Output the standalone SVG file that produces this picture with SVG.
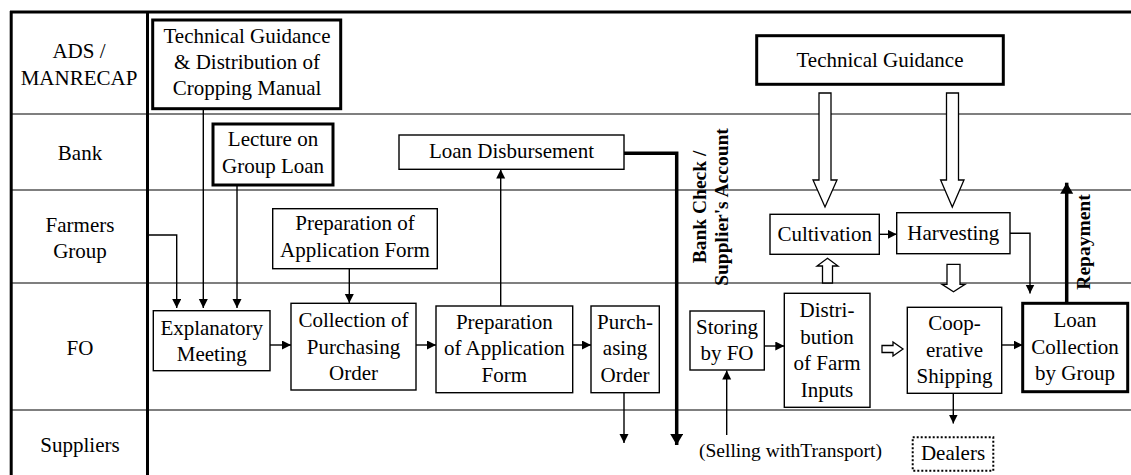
<svg xmlns="http://www.w3.org/2000/svg" width="1131" height="475" viewBox="0 0 1131 475">
  <defs>
    <marker id="arr" markerUnits="userSpaceOnUse" markerWidth="10" markerHeight="10" refX="9" refY="4.5" orient="auto">
      <path d="M0,0 L9,4.5 L0,9 Z" fill="#000"/>
    </marker>
    <marker id="arrBig" markerUnits="userSpaceOnUse" markerWidth="13" markerHeight="14" refX="11" refY="6.5" orient="auto">
      <path d="M0,0 L11,6.5 L0,13 Z" fill="#000"/>
    </marker>
    <style>
      text { font-family: "Liberation Serif", "Times New Roman", serif; font-size: 21px; fill: #000; text-anchor: middle; }
      .vlab { font-weight: bold; font-size: 19.5px; }
      .small { font-size: 19.5px; }
      .lane { stroke: #000; stroke-width: 1.2; fill: none; }
      .frame { stroke: #000; stroke-width: 3; fill: none; }
      .box { fill: #fff; stroke: #000; stroke-width: 1.4; }
      .boxb { fill: #fff; stroke: #000; stroke-width: 3; }
      .dots { fill: #fff; stroke: #000; stroke-width: 2; stroke-dasharray: 2 2; }
      .link { fill: none; stroke: #000; stroke-width: 1.4; }
      .linkb { fill: none; stroke: #000; stroke-width: 3.5; }
      .hollow { fill: #fff; stroke: #000; stroke-width: 1.3; stroke-linejoin: miter; }
    </style>
  </defs>

  <rect width="1131" height="475" fill="#fff"/>

  <!-- swimlane grid -->
  <g id="lanes">
    <line class="lane" x1="10" y1="114" x2="1131" y2="114"/>
    <line class="lane" x1="10" y1="190" x2="1131" y2="190"/>
    <line class="lane" x1="10" y1="283" x2="1131" y2="283"/>
    <line class="lane" x1="10" y1="410" x2="1131" y2="410"/>
    <line class="frame" x1="10" y1="12" x2="1131" y2="12" stroke-width="2.6"/>
    <line class="frame" x1="11.2" y1="11" x2="11.2" y2="475"/>
    <line class="frame" x1="147.5" y1="11" x2="147.5" y2="475"/>
    <text x="79" y="58">ADS /</text>
    <text x="79" y="85">MANRECAP</text>
    <text x="80" y="160">Bank</text>
    <text x="80" y="232">Farmers</text>
    <text x="80" y="258">Group</text>
    <text x="80" y="355">FO</text>
    <text x="80" y="452">Suppliers</text>
  </g>

  <!-- connectors -->
  <g id="connectors">
    <path class="link" d="M149,235 H176.7 V308" marker-end="url(#arr)"/>
    <path class="link" d="M203.3,108.7 V308" marker-end="url(#arr)"/>
    <path class="link" d="M237,185 V308" marker-end="url(#arr)"/>
    <path class="link" d="M270,345 H291" marker-end="url(#arr)"/>
    <path class="link" d="M349.3,268.7 V303" marker-end="url(#arr)"/>
    <path class="link" d="M416,345 H436" marker-end="url(#arr)"/>
    <path class="link" d="M500.7,306 V169.5" marker-end="url(#arr)"/>
    <path class="link" d="M572.7,345 H591" marker-end="url(#arr)"/>
    <path class="link" d="M624,392.7 V443" marker-end="url(#arr)"/>
    <path class="linkb" d="M624,153.3 H676.7 V445" marker-end="url(#arrBig)"/>
    <path class="link" d="M726.7,435 V370.5" marker-end="url(#arr)"/>
    <path class="link" d="M764.3,346 H784.3" marker-end="url(#arr)"/>
    <path class="link" d="M879.3,234.3 H896.7" marker-end="url(#arr)"/>
    <path class="link" d="M1010,233.3 H1030 V293.5" marker-end="url(#arr)"/>
    <path class="link" d="M1001.7,345 H1022.7" marker-end="url(#arr)"/>
    <path class="link" d="M953.3,393.3 V423.5" marker-end="url(#arr)"/>
    <path class="linkb" d="M1066.7,303.3 V182.7" marker-end="url(#arrBig)"/>
    <!-- block arrows -->
    <polygon class="hollow" points="819,93 831,93 831,180 837,180 825,207 813,180 819,180"/>
    <polygon class="hollow" points="946.5,93 958.5,93 958.5,180 964,180 952.3,207 940.6,180 946.5,180"/>
    <polygon class="hollow" points="822.5,283 832.5,283 832.5,266 838,266 827.5,258.3 817,266 822.5,266"/>
    <polygon class="hollow" points="947,264.3 960,264.3 960,284.3 965,284.3 953.5,291.7 942,284.3 947,284.3"/>
    <polygon class="hollow" points="882,345.5 893,345.5 893,342 903,349 893,356 893,352.5 882,352.5"/>
    <text class="vlab" transform="translate(706,207) rotate(-90)">Bank Check /</text>
    <text class="vlab" transform="translate(727.5,207) rotate(-90)">Supplier's Account</text>
    <text class="vlab" transform="translate(1090,242) rotate(-90)">Repayment</text>
    <text class="small" x="790.5" y="457">(Selling withTransport)</text>
  </g>

  <g id="tech-guidance-manual">
    <rect class="boxb" x="152.7" y="20" width="188" height="88.7"/>
    <text x="247" y="43">Technical Guidance</text>
    <text x="247" y="69">&amp; Distribution of</text>
    <text x="247" y="95">Cropping Manual</text>
  </g>

  <g id="lecture-group-loan">
    <rect class="boxb" x="213" y="124" width="120" height="61"/>
    <text x="273" y="146">Lecture on</text>
    <text x="273" y="173">Group Loan</text>
  </g>

  <g id="loan-disbursement">
    <rect class="box" x="399" y="135" width="225" height="34.3"/>
    <text x="511.5" y="158">Loan Disbursement</text>
  </g>

  <g id="prep-application-group">
    <rect class="box" x="272.7" y="208.7" width="164.6" height="60"/>
    <text x="355" y="230">Preparation of</text>
    <text x="355" y="257">Application Form</text>
  </g>

  <g id="explanatory-meeting">
    <rect class="box" x="153.3" y="310.7" width="116.7" height="60"/>
    <text x="211.7" y="335">Explanatory</text>
    <text x="211.7" y="361">Meeting</text>
  </g>

  <g id="collection-order">
    <rect class="box" x="291" y="303.3" width="125" height="86.7"/>
    <text x="353.5" y="327">Collection of</text>
    <text x="353.5" y="353.5">Purchasing</text>
    <text x="353.5" y="380">Order</text>
  </g>

  <g id="prep-application-fo">
    <rect class="box" x="436" y="306" width="136.7" height="86.7"/>
    <text x="504.3" y="328.5">Preparation</text>
    <text x="504.3" y="355">of Application</text>
    <text x="504.3" y="381.5">Form</text>
  </g>

  <g id="purchasing-order">
    <rect class="box" x="591" y="306" width="68.3" height="86.7"/>
    <text x="625" y="328.5">Purch-</text>
    <text x="625" y="355">asing</text>
    <text x="625" y="381.5">Order</text>
  </g>

  <g id="storing">
    <rect class="box" x="690" y="311" width="74.3" height="59"/>
    <text x="727" y="333.5">Storing</text>
    <text x="727" y="359.5">by FO</text>
  </g>

  <g id="distribution">
    <rect class="box" x="784.3" y="293.3" width="85.7" height="114"/>
    <text x="827" y="317">Distri-</text>
    <text x="827" y="343.5">bution</text>
    <text x="827" y="370">of Farm</text>
    <text x="827" y="396.5">Inputs</text>
  </g>

  <g id="technical-guidance">
    <rect class="boxb" x="756.7" y="35.7" width="246.6" height="48.6"/>
    <text x="880" y="67">Technical Guidance</text>
  </g>

  <g id="cultivation">
    <rect class="box" x="770" y="214.3" width="109.3" height="40"/>
    <text x="824.7" y="241">Cultivation</text>
  </g>

  <g id="harvesting">
    <rect class="box" x="896.7" y="212.7" width="113.3" height="41"/>
    <text x="953.3" y="240">Harvesting</text>
  </g>

  <g id="coop-shipping">
    <rect class="box" x="907.3" y="307.3" width="94.4" height="86"/>
    <text x="954.5" y="330">Coop-</text>
    <text x="954.5" y="356.5">erative</text>
    <text x="954.5" y="383">Shipping</text>
  </g>

  <g id="loan-collection">
    <rect class="boxb" x="1022.7" y="303.3" width="105" height="88.4"/>
    <text x="1075" y="327">Loan</text>
    <text x="1075" y="353.5">Collection</text>
    <text x="1075" y="380">by Group</text>
  </g>

  <g id="dealers">
    <rect class="dots" x="912.7" y="437.3" width="80.6" height="33.4"/>
    <text x="953" y="460">Dealers</text>
  </g>
</svg>
